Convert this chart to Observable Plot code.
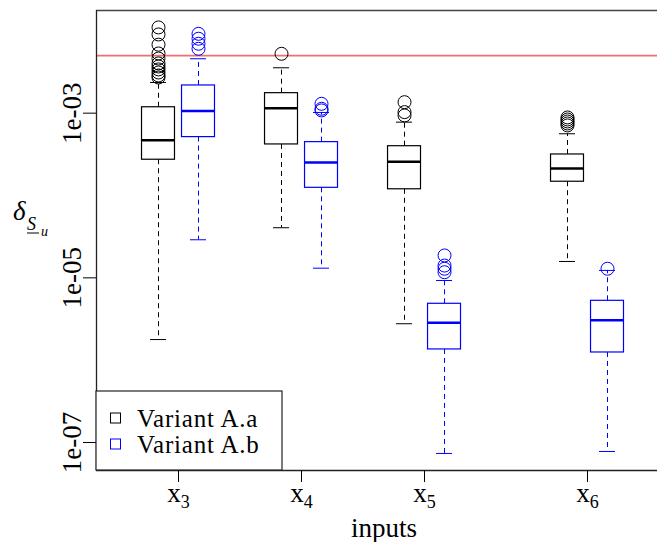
<!DOCTYPE html>
<html><head><meta charset="utf-8">
<script src="https://cdn.jsdelivr.net/npm/d3@7"></script>
<script src="https://cdn.jsdelivr.net/npm/@observablehq/plot@0.6"></script>
<style>body{margin:0;background:#fff}</style>
</head><body><div id="chart"></div>
<script>
// categories
const inputs = ["3", "4", "5", "6"];
const variants = ["Variant A.a", "Variant A.b"];
const threshold = 0.005;
const yTicks = [1e-3, 1e-5, 1e-7];

// Variant A.a statistics (per input)
const lowA  = [1.78e-6, 4.06e-5, 2.77e-6, 1.58e-5];
const q1A   = [2.72e-4, 4.17e-4, 1.19e-4, 1.47e-4];
const medA  = [4.70e-4, 1.15e-3, 2.57e-4, 2.13e-4];
const q3A   = [1.18e-3, 1.75e-3, 3.97e-4, 3.15e-4];
const highA = [2.36e-3, 3.56e-3, 7.78e-4, 5.62e-4];
const outA  = [
  [1.10e-2, 9.04e-3, 6.79e-3, 5.31e-3, 4.61e-3, 4.02e-3, 3.69e-3, 3.40e-3, 3.12e-3, 2.87e-3, 2.71e-3],
  [5.26e-3],
  [1.36e-3, 1.03e-3, 9.38e-4],
  [8.87e-4, 8.38e-4, 7.93e-4, 7.50e-4, 7.10e-4]
];

// Variant A.b statistics (per input)
const lowB  = [2.90e-5, 1.31e-5, 7.36e-8, 7.78e-8];
const q1B   = [5.12e-4, 1.24e-4, 1.35e-6, 1.24e-6];
const medB  = [1.06e-3, 2.52e-4, 2.84e-6, 3.06e-6];
const q3B   = [2.17e-3, 4.45e-4, 4.84e-6, 5.26e-6];
const highB = [4.58e-3, 1.02e-3, 9.29e-6, 1.23e-5];
const outB  = [
  [9.20e-3, 8.02e-3, 6.97e-3, 6.05e-3],
  [1.30e-3, 1.13e-3, 1.08e-3],
  [1.87e-5, 1.41e-5, 1.29e-5, 1.17e-5],
  [1.29e-5]
];

// layout (not data)
const inputPos = [1, 2, 3, 4.325];
const xDomain = [1 / 3, 4.894];
const yDomain = [Math.pow(10, -7.34), Math.pow(10, -1.753)];
const colors = ["#000000", "#0000ff"];
const variantOffset = [-0.1626, 0.1626];
const boxHalf = 0.134, capHalf = 0.065;

const stats = [
  {low: lowA, q1: q1A, med: medA, q3: q3A, high: highA, out: outA},
  {low: lowB, q1: q1B, med: medB, q3: q3B, high: highB, out: outB}
];
const rows = [], outRows = [];
stats.forEach((s, v) => {
  inputs.forEach((inp, i) => {
    const xc = inputPos[i] + variantOffset[v];
    rows.push({variant: variants[v], color: colors[v], xc,
      low: s.low[i], q1: s.q1[i], med: s.med[i], q3: s.q3[i], high: s.high[i]});
    s.out[i].forEach(o => outRows.push({variant: variants[v], color: colors[v], xc, y: o}));
  });
});

const font = "'Liberation Serif', serif";
const plot = Plot.plot({
  width: 657, height: 542,
  marginLeft: 96, marginTop: 10, marginBottom: 72, marginRight: 0,
  style: {fontFamily: font, fontSize: "27px", background: "white", color: "black"},
  x: {type: "linear", domain: xDomain},
  y: {type: "log", domain: yDomain},
  marks: [
    Plot.ruleY([threshold], {stroke: "#f07070", strokeWidth: 1.7}),
    Plot.ruleX(rows, {x: "xc", y1: "q3", y2: "high", stroke: "color", strokeDasharray: "5,4", strokeWidth: 1}),
    Plot.ruleX(rows, {x: "xc", y1: "q1", y2: "low", stroke: "color", strokeDasharray: "5,4", strokeWidth: 1}),
    Plot.ruleY(rows, {y: "high", x1: d => d.xc - capHalf, x2: d => d.xc + capHalf, stroke: "color", strokeWidth: 1}),
    Plot.ruleY(rows, {y: "low", x1: d => d.xc - capHalf, x2: d => d.xc + capHalf, stroke: "color", strokeWidth: 1}),
    Plot.rect(rows, {x1: d => d.xc - boxHalf, x2: d => d.xc + boxHalf, y1: "q1", y2: "q3", stroke: "color", fill: "none", strokeWidth: 1.2}),
    Plot.ruleY(rows, {y: "med", x1: d => d.xc - boxHalf, x2: d => d.xc + boxHalf, stroke: "color", strokeWidth: 2.5}),
    Plot.dot(outRows, {x: "xc", y: "y", r: 6.5, stroke: "color", fill: "none", strokeWidth: 1}),
    Plot.ruleY([yDomain[1]], {stroke: "#444", strokeWidth: 1.3}),
    Plot.ruleY([yDomain[0]], {stroke: "#222", strokeWidth: 1.3}),
    Plot.ruleX([xDomain[0]], {stroke: "#222", strokeWidth: 1.3}),
    Plot.axisX({ticks: inputPos, tickFormat: (d, i) => "x" + inputs[i], tickSize: 12, tickPadding: 0, label: null}),
    Plot.axisY({ticks: yTicks, tickFormat: d => "1e-0" + Math.round(-Math.log10(d)), tickSize: 13, tickRotate: -90, label: null}),
    Plot.text(["inputs"], {frameAnchor: "bottom", dy: 58, dx: 7, lineAnchor: "middle", fontSize: 27})
  ]
});
document.getElementById("chart").appendChild(plot);

const svg = d3.select(plot);
// subscripted x tick labels
svg.selectAll('g[aria-label="x-axis tick label"] text').each(function(d, i) {
  const t = d3.select(this);
  t.text(null);
  t.append("tspan").text("x");
  t.append("tspan").attr("dy", 6).attr("font-size", 18).text(inputs[i]);
});

// y label: delta with underlined S subscript u
const yl = svg.append("text").attr("font-family", font).attr("fill", "black").attr("text-anchor", "start");
yl.append("tspan").attr("x", 13).attr("y", 220).attr("font-size", 27).attr("font-style", "italic").text("δ");
yl.append("tspan").attr("x", 27).attr("y", 230).attr("font-size", 18).attr("font-style", "italic").text("S");
yl.append("tspan").attr("x", 41).attr("y", 236).attr("font-size", 14).attr("font-style", "italic").text("u");
svg.append("line").attr("x1", 27).attr("x2", 39).attr("y1", 233).attr("y2", 233).attr("stroke", "black").attr("stroke-width", 1);

// legend
const lg = svg.append("g").attr("font-family", font).attr("font-size", 25).attr("text-anchor", "start")
  .attr("letter-spacing", 0.8);
lg.append("rect").attr("x", 96).attr("y", 391).attr("width", 186).attr("height", 79)
  .attr("fill", "white").attr("stroke", "#222").attr("stroke-width", 1.2);
variants.forEach((v, i) => {
  const cy = 418 + i * 26;
  lg.append("rect").attr("x", 110.5).attr("y", cy - 5).attr("width", 10).attr("height", 10)
    .attr("fill", "none").attr("stroke", colors[i]).attr("stroke-width", 1);
  lg.append("text").attr("x", 137).attr("y", cy + 8.5).attr("fill", "black").text(v);
});
</script></body></html>
